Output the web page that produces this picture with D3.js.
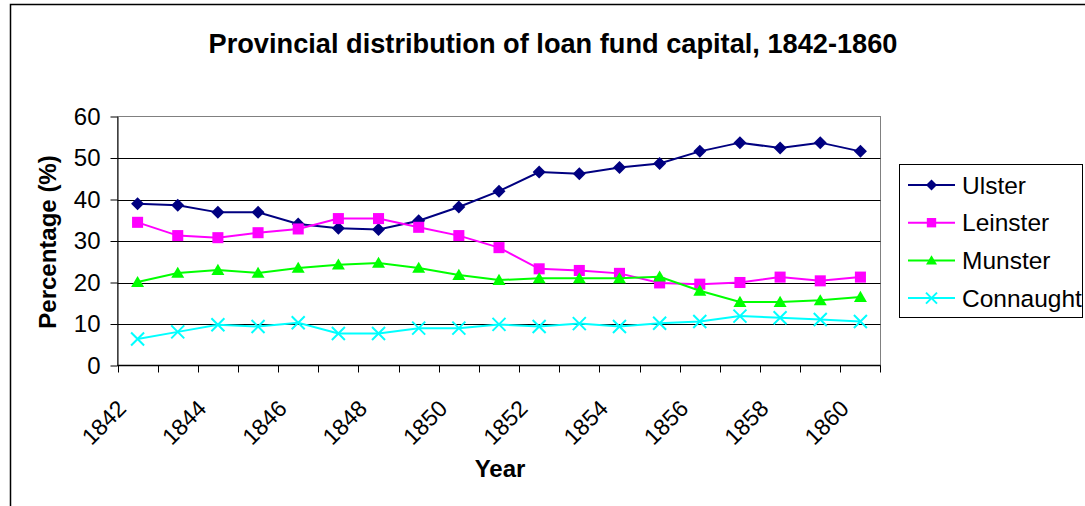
<!DOCTYPE html>
<html>
<head>
<meta charset="utf-8">
<script src="https://cdn.jsdelivr.net/npm/d3@7/dist/d3.min.js"></script>
<style>
  html, body { margin: 0; padding: 0; background: #fff; }
  svg { display: block; }
  text { font-family: "Liberation Sans", Arial, sans-serif; }
</style>
</head>
<body>
<svg id="chart" width="1085" height="506"></svg>
<script>
const years = [1842,1843,1844,1845,1846,1847,1848,1849,1850,1851,1852,1853,1854,1855,1856,1857,1858,1859,1860];
const xLabels = ["1842","1844","1846","1848","1850","1852","1854","1856","1858","1860"];
const yTicks = [0,10,20,30,40,50,60];
const ulster    = [39.0,38.6,36.9,36.9,34.1,33.1,32.8,34.9,38.2,42.0,46.6,46.2,47.7,48.7,51.6,53.7,52.4,53.7,51.6];
const leinster  = [34.5,31.3,30.8,32.0,32.9,35.4,35.4,33.3,31.3,28.4,23.3,22.9,22.2,19.9,19.6,20.0,21.3,20.4,21.3];
const munster   = [20.1,22.3,23.0,22.3,23.5,24.3,24.7,23.5,21.8,20.6,21.0,21.0,21.0,21.4,18.0,15.3,15.3,15.7,16.5];
const connaught = [6.4,8.1,9.8,9.4,10.3,7.7,7.7,9.0,9.0,9.9,9.4,10.1,9.4,10.2,10.6,11.9,11.5,11.1,10.6];
const seriesNames = ["Ulster","Leinster","Munster","Connaught"];
const seriesColors = ["#000080","#FF00FF","#00FF00","#00FFFF"];
const seriesShapes = ["diamond","square","triangle","x"];
const seriesValues = [ulster, leinster, munster, connaught];

const svg = d3.select("#chart");
const plot = {left: 117.5, right: 880.5, top: 116.5, bottom: 365.5};

const x = d3.scaleBand().domain(years).range([plot.left, plot.right]).padding(0);
const y = d3.scaleLinear().domain([0, 60]).range([plot.bottom, plot.top]);

// outer frame
svg.append("rect").attr("x", 10.5).attr("y", 4.5).attr("width", 1200).attr("height", 600)
  .attr("fill", "none").attr("stroke", "#000").attr("stroke-width", 1.5);

// title
svg.append("text").attr("x", 553).attr("y", 53).attr("text-anchor", "middle")
  .attr("font-size", 27.2).attr("font-weight", "bold").text("Provincial distribution of loan fund capital, 1842-1860");

// plot area border
svg.append("rect").attr("x", plot.left).attr("y", plot.top)
  .attr("width", plot.right - plot.left).attr("height", plot.bottom - plot.top)
  .attr("fill", "none").attr("stroke", "#808080").attr("stroke-width", 1);

// gridlines
svg.append("g").selectAll("line").data(yTicks.filter(d => d > 0 && d < 60)).join("line")
  .attr("x1", plot.left).attr("x2", plot.right)
  .attr("y1", d => Math.round(y(d)) + 0.5).attr("y2", d => Math.round(y(d)) + 0.5)
  .attr("stroke", "#000").attr("stroke-width", 1);

// y axis
const yAxis = svg.append("g").attr("transform", `translate(${plot.left},0)`)
  .call(d3.axisLeft(y).tickValues(yTicks).tickSize(7).tickPadding(10).tickSizeOuter(0));
yAxis.select(".domain").attr("stroke", "#000");
yAxis.selectAll(".tick line").attr("stroke", "#000");
yAxis.selectAll(".tick text").attr("font-size", 24).attr("font-family", "Liberation Sans, Arial, sans-serif").attr("fill", "#000");

// x axis line + ticks at band boundaries
const bounds = years.map(d => x(d)).concat([x(years[years.length-1]) + x.bandwidth()]);
const xg = svg.append("g");
xg.append("line").attr("x1", plot.left).attr("x2", plot.right).attr("y1", plot.bottom).attr("y2", plot.bottom)
  .attr("stroke", "#000").attr("stroke-width", 1.5);
xg.selectAll("line.tk").data(bounds).join("line").attr("class", "tk")
  .attr("x1", d => Math.round(d) + 0.5).attr("x2", d => Math.round(d) + 0.5)
  .attr("y1", plot.bottom).attr("y2", plot.bottom + 7).attr("stroke", "#000");
xg.selectAll("text").data(xLabels).join("text")
  .attr("transform", d => `translate(${x(+d) + x.bandwidth()/2 - 10},${plot.bottom + 44.5}) rotate(-45)`)
  .attr("text-anchor", "end").attr("font-size", 23).text(d => d);

// axis titles
svg.append("text").attr("x", 500).attr("y", 477).attr("text-anchor", "middle")
  .attr("font-size", 24).attr("font-weight", "bold").text("Year");
svg.append("text").attr("transform", "translate(56,242) rotate(-90)").attr("text-anchor", "middle")
  .attr("font-size", 24).attr("font-weight", "bold").text("Percentage (%)");

function drawMarker(g, shape, color, s) {
  if (shape === "diamond") {
    g.append("path").attr("d", `M0,${-s}L${s},0L0,${s}L${-s},0Z`).attr("fill", color);
  } else if (shape === "square") {
    g.append("rect").attr("x", -s*0.85).attr("y", -s*0.85).attr("width", s*1.7).attr("height", s*1.7).attr("fill", color);
  } else if (shape === "triangle") {
    g.append("path").attr("d", `M0,${-s*0.95}L${s},${s*0.75}L${-s},${s*0.75}Z`).attr("fill", color);
  } else {
    g.append("path").attr("d", `M${-s},${-s}L${s},${s}M${-s},${s}L${s},${-s}`)
      .attr("stroke", color).attr("stroke-width", 2).attr("fill", "none");
  }
}

const line = d3.line().x((d, i) => x(years[i]) + x.bandwidth()/2).y(d => y(d));

seriesValues.forEach((vals, si) => {
  const g = svg.append("g");
  g.append("path").datum(vals).attr("d", line).attr("fill", "none")
    .attr("stroke", seriesColors[si]).attr("stroke-width", 2);
  vals.forEach((v, i) => {
    const m = g.append("g").attr("transform", `translate(${x(years[i]) + x.bandwidth()/2},${y(v)})`);
    drawMarker(m, seriesShapes[si], seriesColors[si], 6.5);
  });
});

// legend
const leg = svg.append("g");
leg.append("rect").attr("x", 899.5).attr("y", 164.5).attr("width", 183).attr("height", 153)
  .attr("fill", "#fff").attr("stroke", "#000").attr("stroke-width", 1);
seriesNames.forEach((name, i) => {
  const cy = 185 + i * 37.7;
  leg.append("line").attr("x1", 908).attr("x2", 955).attr("y1", cy).attr("y2", cy)
    .attr("stroke", seriesColors[i]).attr("stroke-width", 2);
  const m = leg.append("g").attr("transform", `translate(931.5,${cy})`);
  drawMarker(m, seriesShapes[i], seriesColors[i], 5.5);
  leg.append("text").attr("x", 962).attr("y", cy + 8.5).attr("font-size", 24.5).text(name);
});
</script>
</body>
</html>
